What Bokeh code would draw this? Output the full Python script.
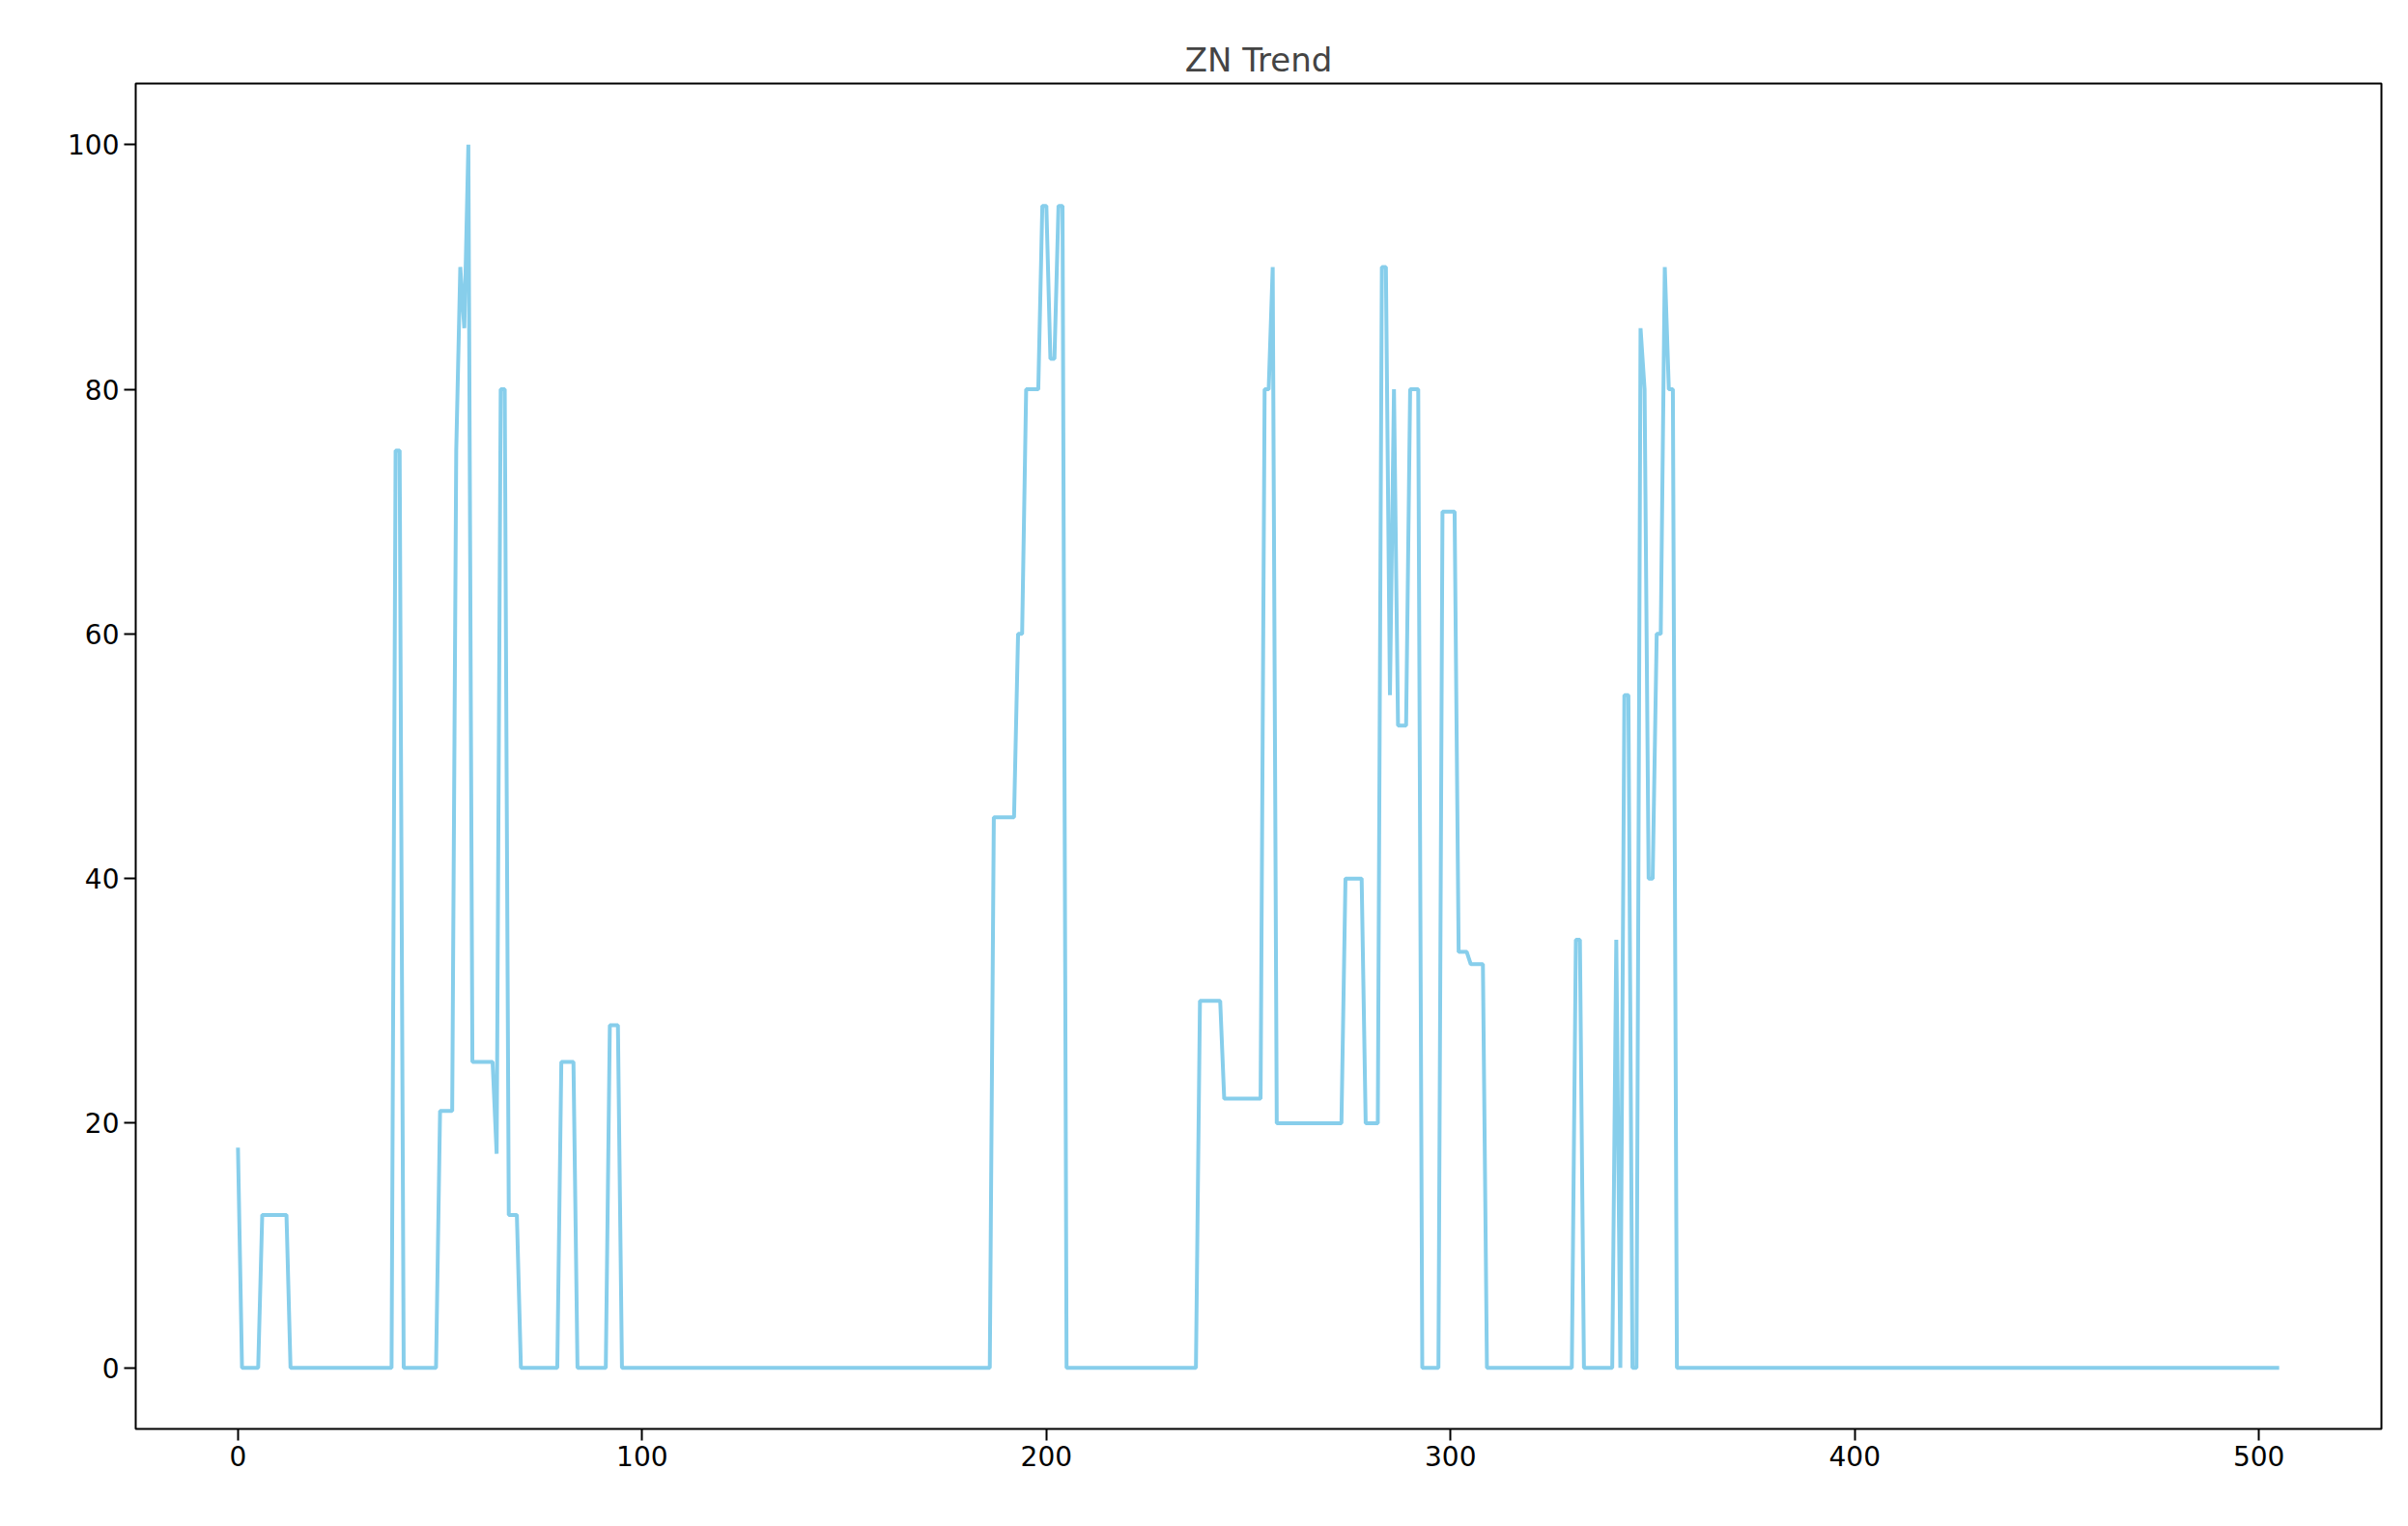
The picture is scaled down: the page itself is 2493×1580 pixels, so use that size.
from bokeh.plotting import figure
from bokeh.models import Range1d, FixedTicker
from bokeh.embed import file_html
from bokeh.resources import INLINE

# Breakpoints of the series (index, value)
x_idx = [0, 1, 5, 6, 12, 13, 38, 39, 40, 41, 49, 50, 53, 54, 55, 56, 57, 58, 63, 64, 65, 66, 67, 69, 70,
         79, 80, 83, 84, 91, 92, 94, 95, 186, 187, 192, 193, 194, 195, 198, 199, 200, 201, 202, 203, 204, 205,
         237, 238, 243, 244, 253, 254, 255, 256, 257, 273, 274, 278, 279, 282, 283, 284, 285, 286, 287, 289,
         290, 292, 293, 297, 298, 301, 302, 304, 305, 308, 309, 330, 331, 332, 333, 340, 341, 342, 343, 344,
         345, 346, 347, 348, 349, 350, 351, 352, 353, 354, 355, 356, 505]
zn = [18, 0, 0, 12.5, 12.5, 0, 0, 75, 75, 0, 0, 21, 21, 75, 90, 85, 100, 25, 25, 17.5, 80, 80, 12.5, 12.5, 0,
      0, 25, 25, 0, 0, 28, 28, 0, 0, 45, 45, 60, 60, 80, 80, 95, 95, 82.5, 82.5, 95, 95, 0,
      0, 30, 30, 22, 22, 80, 80, 90, 20, 20, 40, 40, 20, 20, 90, 90, 55, 80, 52.5, 52.5,
      80, 80, 0, 0, 70, 70, 34, 34, 33, 33, 0, 0, 35, 35, 0, 0, 35, 0, 55, 55,
      0, 0, 85, 80, 40, 40, 60, 60, 90, 80, 80, 0, 0]
x_ticks = [0, 100, 200, 300, 400, 500]
y_ticks = [0, 20, 40, 60, 80, 100]

p = figure(width=2477, height=1564, output_backend="svg", toolbar_location=None,
           x_range=Range1d(-25.3, 530.3), y_range=Range1d(-5, 105),
           title="ZN Trend", min_border_left=140, min_border_right=12,
           min_border_top=86, min_border_bottom=85)
p.line(x_idx, zn, line_color="skyblue", line_width=4)

p.title.align = "center"
p.title.text_font = "DejaVu Sans"
p.title.text_font_size = "34px"
p.title.text_font_style = "normal"
p.grid.visible = False
p.outline_line_color = "black"
p.outline_line_width = 2
for ax, t in ((p.xaxis, x_ticks), (p.yaxis, y_ticks)):
    ax.ticker = FixedTicker(ticks=t)
    ax.minor_tick_line_color = None
    ax.major_tick_in = 0
    ax.major_tick_out = 12
    ax.major_tick_line_width = 2
    ax.axis_line_color = None
    ax.major_label_text_font = "DejaVu Sans"
    ax.major_label_text_font_size = "28px"
    ax.major_label_text_color = "black"

open("out.html", "w").write(file_html(p, INLINE))
